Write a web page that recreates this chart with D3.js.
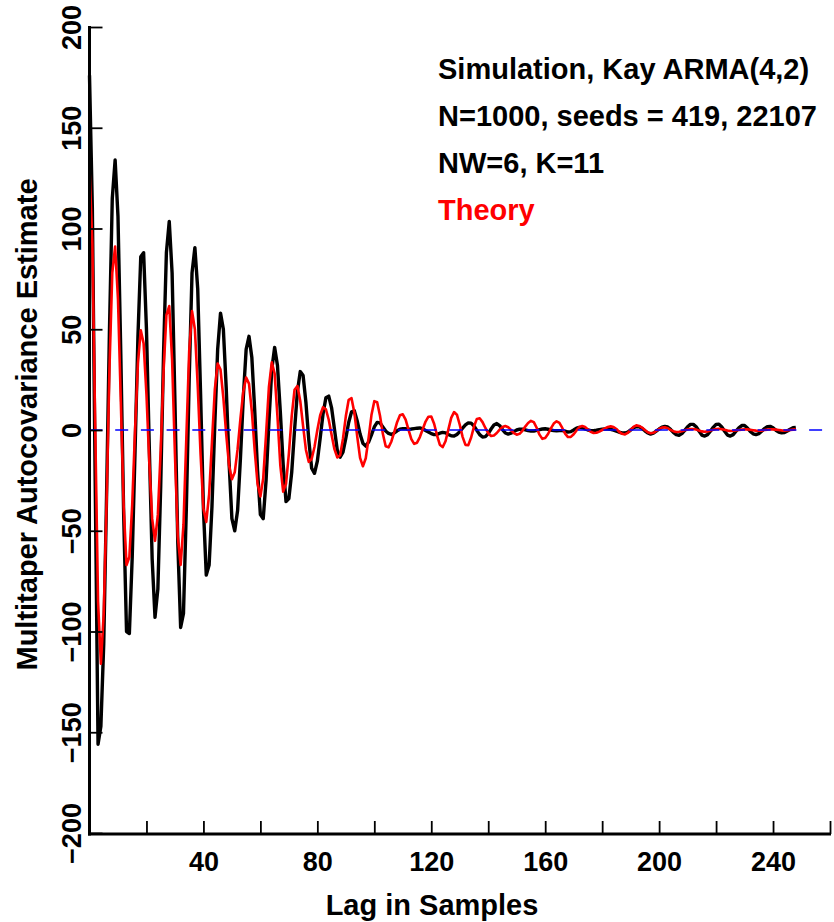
<!DOCTYPE html>
<html>
<head>
<meta charset="utf-8">
<script src="https://cdn.jsdelivr.net/npm/d3@7/dist/d3.min.js"></script>
<style>
  html, body { margin: 0; padding: 0; background: #fff; }
  svg { display: block; }
  text { font-family: "Liberation Sans", Arial, Helvetica, sans-serif; font-weight: bold; }
</style>
</head>
<body>
<svg id="chart" width="834" height="922"></svg>
<script>
// Simulation (black) multitaper autocovariance estimate, lags 0..248
const simulation = [
  176,110,-25,-156,-147,-106,-32,49,115,134,
  106,37,-42,-100,-101,-63,-10,46,86,88,
  50,-9,-64,-93,-79,-28,38,88,103.5,78,
  14,-56,-98,-91,-39,25,78,90.5,70,18,
  -39,-72,-67,-38,3,40,58,50,21,-16,
  -44,-50,-40,-14,16,40,46.5,36,10,-20,
  -42,-44,-25,4,30,41,32,9,-17,-35.5,
  -34,-21,0,19,29,27,13.5,-5,-19,-21.5,
  -15.5,-4,8,16,16.8,11,0.5,-10,-13.5,-11,
  -4,3.7,9,9.5,4.5,-2,-6.6,-8,-6,-2.4,
  1.5,3.8,3.5,1.5,-0.5,-1.7,-2.2,-1.5,-0.4,0.4,
  0.7,0.6,0.4,0.5,0.7,0.9,1,0.6,-0.2,-1,
  -1.8,-2.3,-2.2,-1.6,-1.2,-1.4,-2.2,-2.9,-3,-2.2,
  -0.8,0.9,2.5,3.5,3.4,2,-0.2,-2.3,-3.5,-3.3,
  -1.8,0.5,2.5,3.2,2.2,0.2,-1.5,-2,-1.6,-0.8,
  0,0.4,0.4,0.1,-0.3,-0.5,-0.5,-0.2,0.2,0.5,
  0.6,0.4,0,-0.3,-0.4,-0.3,-0.3,-0.6,-1,-0.8,
  0,0.9,1.3,1.1,0.5,0,-0.3,-0.3,-0.1,0.2,
  0.4,0.5,0.5,0.3,-0.1,-0.6,-1.1,-1.4,-1.5,-1,
  0,1.1,1.7,1.6,0.8,-0.4,-1.5,-2,-1.6,-0.6,
  0.5,1.4,1.8,1.5,0.3,-1.2,-2.3,-2.6,-1.8,-0.2,
  1.6,2.8,2.8,1.6,-0.5,-2.5,-3,-2.3,-0.6,1.3,
  2.8,2.9,1.5,-0.6,-2.5,-3,-2.3,-0.6,1.1,2.2,
  2.2,1,-0.7,-1.9,-2.3,-1.8,-0.6,0.7,1.7,1.8,
  1.1,-0.1,-1,-1.4,-1.3,-0.5,0.4,1.1,1.3
];

// Theory (red) autocovariance, lags 0..248
const theory = [
  130,92.5,2,-85,-116,-91,-36,30,78,91,
  65,14,-38,-67,-63,-37,0,33,49.5,43,
  17.6,-16,-44,-55,-42,-10,29,57,61.5,35,
  -12,-53,-67,-47,-4,39,59,50,22,-12,
  -39,-45.6,-32,-6,20,33,30,16,-2,-17.6,
  -24.4,-21,-9.5,5.6,19,26,23,9.3,-10,-26.6,
  -33,-24,-2,21.4,33.6,28,6.6,-17.6,-30.6,-26.7,
  -11.8,6.9,20,21.8,14.4,1.9,-9.9,-15.8,-14.4,-8.4,
  0,7.3,11.3,10.3,5.1,-2.4,-9.5,-13.6,-12.5,-4.3,
  6.8,15,15.8,8.6,-3.2,-13.8,-18,-14,-3.9,7.4,
  14.3,13.8,7.1,-1.9,-8.1,-8.6,-5.7,-1,3.9,7.3,
  7.8,5.1,0.2,-4.5,-6.9,-6.3,-3.5,0.4,4.2,6.6,
  6.7,3.1,-2.5,-7.3,-8.5,-5.6,0.2,6,8.9,7.6,
  2.6,-3.4,-7.4,-7.5,-3.7,1.7,5.5,5.8,3.9,1,
  -1.6,-3,-2.7,-1.5,0.2,1.5,2,1.4,0,-1.5,
  -2.3,-1.9,-0.4,1.7,3.5,4.5,3.9,1.1,-2.3,-4.4,
  -4,-2,0.8,3.2,4.3,3.5,1,-1.8,-3.5,-3.4,
  -2.1,-0.2,1.5,2,1.5,0.3,-0.9,-1.5,-1.4,-0.8,
  0,0.8,1.5,1.8,1.5,0.5,-0.9,-1.9,-2.2,-1.4,
  0,1.5,2.3,2,1.2,0,-1.1,-1.6,-1.4,-0.5,
  0.5,1.2,1.4,0.9,0.1,-0.6,-1,-0.9,-0.6,-0.1,
  0.3,0.5,0.5,0.2,-0.3,-0.7,-0.9,-0.7,-0.3,0.1,
  0.5,0.6,0.4,0.1,-0.3,-0.5,-0.4,-0.2,0,0.2,
  0.4,0.3,0.1,-0.1,-0.3,-0.4,-0.3,0,0.2,0.4,
  0.3,0.2,0,-0.2,-0.3,-0.2,0,0.2,0.3
];

const xTicks = [20,40,60,80,100,120,140,160,180,200,220,240,260];
const xTickLabels = [40,80,120,160,200,240];
const yTicks = [-200,-150,-100,-50,0,50,100,150,200];
const xDomain = [0, 260];
const yDomain = [-200, 200];
const annotations = [
  "Simulation, Kay ARMA(4,2)",
  "N=1000, seeds = 419, 22107",
  "NW=6, K=11",
  "Theory"
];
const annotationColors = ["#000", "#000", "#000", "#ff0000"];

(function () {
const svg = d3.select("#chart");
const mLeft = 89.5, mRight = 830, mTop = 27, mBottom = 834;

const x = d3.scaleLinear().domain(xDomain).range([mLeft, mRight]);
const y = d3.scaleLinear().domain(yDomain).range([mBottom - 1, mTop]);

// Data lines
const line = d3.line().x((d, i) => x(i)).y(d => y(d));

svg.append("path")
  .datum(simulation)
  .attr("fill", "none")
  .attr("stroke", "#000")
  .attr("stroke-width", 3.4)
  .attr("stroke-linejoin", "round")
  .attr("d", line);

svg.append("path")
  .datum(theory)
  .attr("fill", "none")
  .attr("stroke", "#ff0000")
  .attr("stroke-width", 2.6)
  .attr("stroke-linejoin", "round")
  .attr("d", line);

// Zero reference line (blue dashed)
svg.append("line")
  .attr("x1", x(0)).attr("x2", x(260))
  .attr("y1", y(0)).attr("y2", y(0))
  .attr("stroke", "#0000ff")
  .attr("stroke-width", 1.6)
  .attr("stroke-dasharray", "13,12.7");

// X axis
const xAxis = d3.axisBottom(x)
  .tickValues(xTicks)
  .tickSizeInner(-13)
  .tickSizeOuter(0)
  .tickFormat(d => xTickLabels.includes(d) ? String(d) : "");

const gx = svg.append("g")
  .attr("transform", `translate(0,${mBottom})`)
  .call(xAxis);
gx.select(".domain").attr("stroke", "#000").attr("stroke-width", 3).attr("d", `M${mLeft - 1.5},0H${mRight + 1}`);
gx.selectAll(".tick line").attr("stroke", "#000").attr("stroke-width", 1.8);
gx.selectAll(".tick text")
  .attr("y", 37).attr("dy", 0)
  .attr("fill", "#000")
  .style("font-size", "27px")
  .style("font-weight", "bold")
  .style("font-family", '"Liberation Sans", Arial, sans-serif');

// Y axis
const yAxis = d3.axisLeft(y)
  .tickValues(yTicks)
  .tickSizeInner(-13)
  .tickSizeOuter(0)
  .tickFormat(d3.format("d"));

const gy = svg.append("g")
  .attr("transform", `translate(${mLeft},0)`)
  .call(yAxis);
gy.select(".domain").attr("stroke", "#000").attr("stroke-width", 3).attr("d", `M0,${mTop - 1}V${mBottom + 1.5}`);
gy.selectAll(".tick line").attr("stroke", "#000").attr("stroke-width", 1.8);
gy.selectAll(".tick text")
  .attr("transform", "rotate(-90)")
  .attr("x", 0).attr("y", -9).attr("dy", 0)
  .attr("text-anchor", "middle")
  .attr("fill", "#000")
  .style("font-size", "27px")
  .style("font-weight", "bold")
  .style("font-family", '"Liberation Sans", Arial, sans-serif');

// Axis titles
svg.append("text")
  .attr("x", 432).attr("y", 915)
  .attr("text-anchor", "middle")
  .style("font-size", "29px")
  .text("Lag in Samples");

svg.append("text")
  .attr("transform", `translate(37,${(mTop + mBottom) / 2 - 6}) rotate(-90)`)
  .attr("text-anchor", "middle")
  .style("font-size", "29px")
  .text("Multitaper Autocovariance Estimate");

// Annotations
svg.selectAll("text.note")
  .data(annotations)
  .enter().append("text")
  .attr("class", "note")
  .attr("x", 438)
  .attr("y", (d, i) => 79 + i * 47)
  .attr("fill", (d, i) => annotationColors[i])
  .style("font-size", "29px")
  .text(d => d);
})();
</script>
</body>
</html>
